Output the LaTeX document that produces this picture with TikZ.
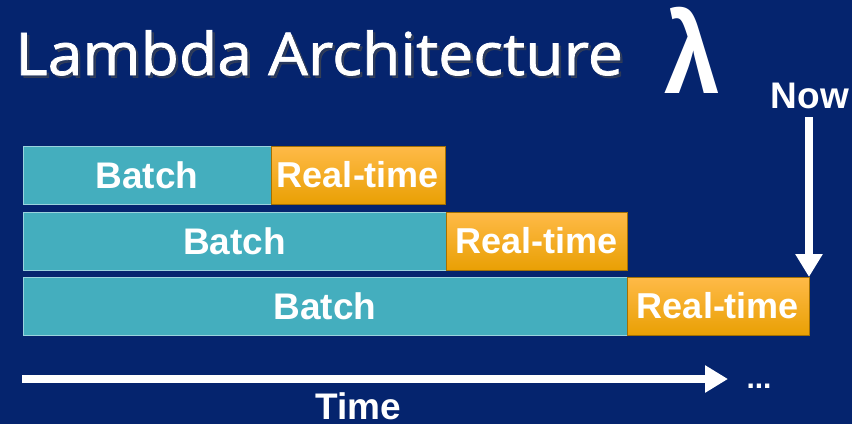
\documentclass[tikz,border=0pt]{standalone}
\usepackage{fontspec}
\setmainfont{Liberation Sans}
\newfontfamily\titlefont[FakeBold=1.2]{Open Sans}
\usetikzlibrary{arrows.meta}
\definecolor{navy}{HTML}{05246E}
\definecolor{teal}{HTML}{44AEBE}
\definecolor{tealedge}{HTML}{9AD3DD}
\definecolor{orangetop}{HTML}{FFBA48}
\definecolor{orangebot}{HTML}{E9A004}
\begin{document}
\begin{tikzpicture}[x=1pt,y=-1pt,
  batchbox/.style={anchor=north west, fill=teal, draw=tealedge, line width=0.8pt,
    inner sep=0pt, outer sep=0pt, minimum height=58pt, text=white,
    font=\bfseries\fontsize{37}{40}\selectfont},
  rtbox/.style={anchor=north west, top color=orangetop, bottom color=orangebot,
    draw=orangebot!70!black, line width=0.5pt, inner sep=0pt, outer sep=0pt,
    minimum height=58pt, text=white, font=\bfseries\fontsize{36}{40}\selectfont},
  bigarrow/.style={white, line width=8pt, -{Triangle[width=26pt,length=23pt]}},
  label/.style={text=white, font=\bfseries\fontsize{37}{40}\selectfont, inner sep=0pt},
  titletext/.style={anchor=base west, inner sep=0pt,
    font=\titlefont\fontsize{59}{62}\selectfont, xscale=1.06}]
  % background
  \fill[navy] (0,0) rectangle (852,424);
  \useasboundingbox (0,0) rectangle (852,424);

  % title with drop shadow
  \node[titletext, text=black!70, opacity=0.5] (titleshadow) at (17.5,77.5) {Lambda Architecture};
  \node[titletext, text=white] (title) at (15,75) {Lambda Architecture};
  \node[text=white, inner sep=0pt, yscale=1.15,
        font=\bfseries\fontsize{100}{104}\selectfont] (lambda) at (692,50) {λ};

  % three runs of batch + real-time
  \node[batchbox, minimum width=248pt] (b1) at (23,146) {Batch};
  \node[rtbox, minimum width=174pt] (r1) at (b1.north east) {Real-time};
  \node[batchbox, minimum width=423pt] (b2) at (23,212) {Batch};
  \node[rtbox, minimum width=181pt] (r2) at (b2.north east) {Real-time};
  \node[batchbox, minimum width=604pt] (b3) at (23,277) {Batch};
  \node[rtbox, minimum width=182pt] (r3) at (b3.north east) {Real-time};

  % "Now" marker
  \node[label] (now) at (810,96) {Now};
  \coordinate (nowtop) at (809,117);
  \draw[bigarrow] (nowtop) -- (r3.north east);

  % time axis
  \coordinate (t0) at (22,379);
  \coordinate (t1) at (728,379);
  \draw[bigarrow] (t0) -- (t1);
  \node[label, font=\bfseries\fontsize{30}{32}\selectfont, anchor=base] (dots) at (759,388) {...};
  \node[label, anchor=base] (time) at (358,419) {Time};
\end{tikzpicture}
\end{document}
